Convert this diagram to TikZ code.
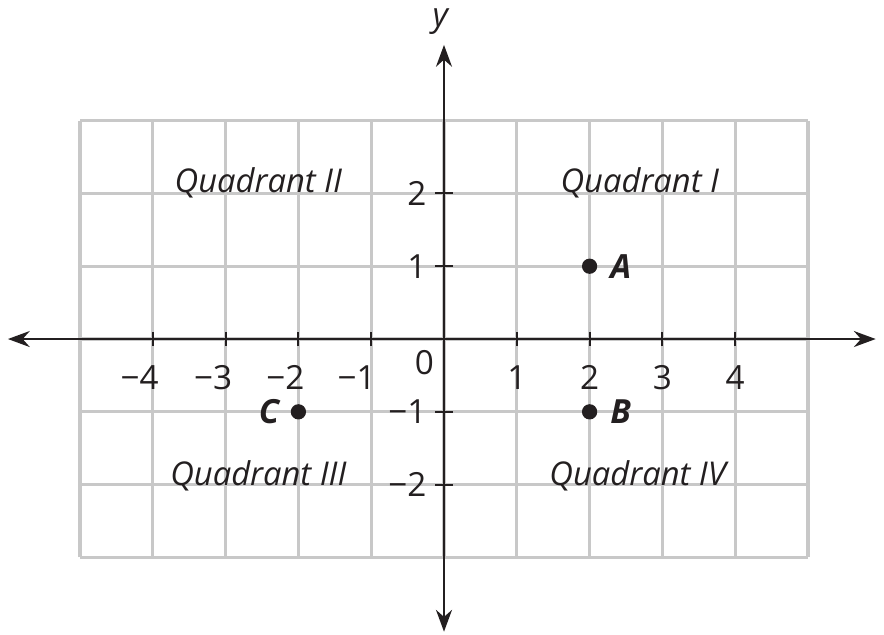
\documentclass[tikz,border=0pt]{standalone}
\usepackage{fontspec}
\setmainfont{Open Sans}
\usepackage{xcolor}
\definecolor{cAxis}{HTML}{231F20}
\definecolor{cGrid}{HTML}{C8C8C8}
\usepackage{tikz}
\usetikzlibrary{arrows.meta}
\tikzset{
  grid-line/.style={draw=cGrid,line width=1.2pt},
  axis-line/.style={{Stealth[length=3mm,width=2.2mm]}-{Stealth[length=3mm,width=2.2mm]},
    line width=0.8pt,draw=cAxis},
  tick-mark/.style={draw=cAxis,line width=0.8pt},
  tick-label/.style={font=\fontsize{13}{15}\selectfont,text=cAxis,inner sep=1pt},
  quad-label/.style={font=\fontsize{12.8}{15}\selectfont\itshape,text=cAxis},
  pt-dot/.style={circle,fill=cAxis,inner sep=0pt,minimum size=2.1mm},
  pt-label/.style={font=\fontsize{13}{15}\selectfont\bfseries\itshape,text=cAxis},
}
\begin{document}
\begin{tikzpicture}[x=1cm,y=1cm]
  \useasboundingbox (-6.099,-4.052) rectangle (6.044,4.657);
  % grid
  \draw[grid-line] (-5,-3) grid (5,3);
  % axes
  \coordinate (xl) at (-5.99,0);
  \coordinate (xr) at (5.93,0);
  \coordinate (yb) at (0,-4.02);
  \coordinate (yt) at (0,4.04);
  \draw[axis-line] (xl) -- (xr);
  \draw[axis-line] (yb) -- (yt);
  \node[font=\fontsize{13}{15}\selectfont\itshape,text=cAxis] (ylab) at (-0.05,4.36) {y};
  % ticks and numbers
  \foreach \i in {-4,...,4}{
    \ifnum\i=0\else
      \draw[tick-mark] (\i,-0.09) -- (\i,0.09);
    \fi
  }
  \foreach \i/\dx/\t in {-4/-0.18/−4,-3/-0.17/−3,-2/-0.18/−2,-1/-0.2/−1}{
    \node[tick-label] (nx\i) at (\i+\dx,-0.53) {\t};
  }
  \foreach \i in {1,...,4}{
    \node[tick-label] (px\i) at (\i,-0.53) {\i};
  }
  \node[tick-label] (n0) at (-0.27,-0.33) {0};
  \foreach \j/\t in {2/2,1/1,-1/−1,-2/−2}{
    \draw[tick-mark] (-0.12,\j) -- (0.12,\j);
    \node[tick-label,anchor=east] (ny\j) at (-0.2,\j) {\t};
  }
  % quadrants
  \node[quad-label] (q2) at (-2.55,2.15) {Quadrant II};
  \node[quad-label] (q1) at (2.69,2.15) {Quadrant I};
  \node[quad-label] (q3) at (-2.55,-1.88) {Quadrant III};
  \node[quad-label] (q4) at (2.66,-1.88) {Quadrant IV};
  % points
  \node[pt-dot] (pA) at (2,1) {};
  \node[pt-dot] (pB) at (2,-1) {};
  \node[pt-dot] (pC) at (-2,-1) {};
  \node[pt-label,anchor=west] (lA) at (2.16,1) {A};
  \node[pt-label,anchor=west] (lB) at (2.16,-1) {B};
  \node[pt-label,anchor=east] (lC) at (-2.14,-1) {C};
\end{tikzpicture}
\end{document}
